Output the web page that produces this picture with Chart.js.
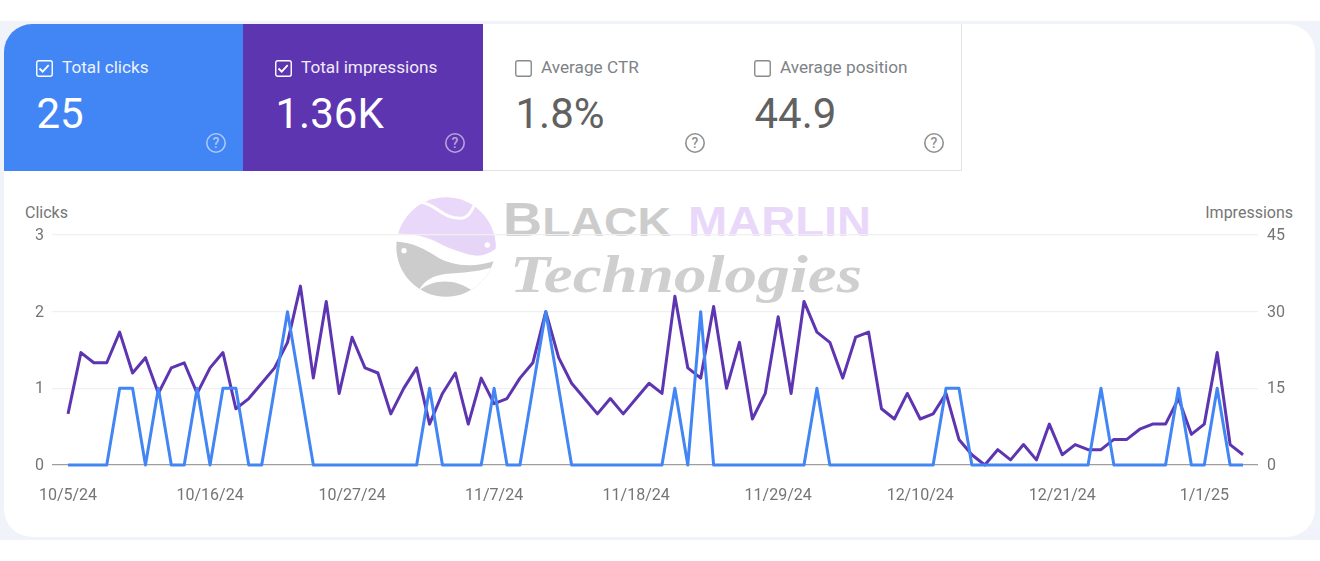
<!DOCTYPE html>
<html>
<head>
<meta charset="utf-8">
<title>Search performance</title>
<script src="https://cdn.jsdelivr.net/npm/chart.js@4"></script>
<style>
	html, body { margin: 0; padding: 0; width: 1320px; height: 561px; overflow: hidden; background: #fff; font-family: Roboto, sans-serif; }
	.band { position: absolute; left: 0; top: 21px; width: 1320px; height: 519px; background: #f1f3fa; }
	.card { position: absolute; left: 4px; top: 24px; width: 1311px; height: 513px; background: #fff; border-radius: 28px; }
	.tile { position: absolute; top: 24px; height: 147px; width: 240px; box-sizing: border-box; color: #fff; }
	.tile.off { color: #70757a; border-right: 1.5px solid #e3e3e3; border-bottom: 1.5px solid #e3e3e3; }
	.tile .name { position: absolute; top: 32.5px; left: 58px; font-size: 17.2px; line-height: 20px; white-space: nowrap; opacity: .9; }
	.tile .value { position: absolute; top: 64.5px; left: 32.5px; font-size: 42px; line-height: 50px; white-space: nowrap; }
	.tile.off .value { color: #616161; }
	.tile svg { position: absolute; }
	.axis-name { position: absolute; top: 204px; font-size: 16px; line-height: 18px; color: #757575; }
	#logo { position: absolute; left: 0; top: 0; }
	#chart-box { position: absolute; left: 0; top: 0; width: 1320px; height: 561px; }
</style>
</head>
<body>
<div class="band"></div>
<div class="card"></div>
<div id="tiles"></div>

<svg id="logo" width="1320" height="561">
	<defs>
		<clipPath id="disc"><circle cx="198" cy="186" r="149"/></clipPath>
		<pattern id="dots" width="6" height="6" patternUnits="userSpaceOnUse"><rect width="6" height="6" fill="#e9d8f9"/><circle cx="3" cy="3" r="1.3" fill="#d3c3e4"/></pattern>
	</defs>
	<g transform="translate(380 185) scale(0.3333)">
		<g clip-path="url(#disc)">
			<path d="M0 148 C80 140 130 150 180 176 C240 208 290 212 360 180 L360 0 L0 0 Z" fill="#e9d8f9"/>
			<path d="M140 152 C180 170 240 208 290 212 C310 212 330 205 350 190 L350 150 Z" fill="url(#dots)"/>
			<path d="M0 172 C80 160 130 190 170 215 C220 245 290 250 360 222 L360 345 L0 345 Z" fill="#cccccc"/>
			<path d="M360 238 C290 268 220 260 180 270 C150 276 125 296 118 316 C160 280 230 280 278 318 L360 345 Z" fill="#fff"/>
			<path d="M125 52 C170 60 190 100 240 100 C262 100 272 84 282 62" fill="none" stroke="#fff" stroke-width="9"/>
		</g>
		<circle cx="322" cy="180" r="8" fill="#fff"/>
		<circle cx="72" cy="197" r="8" fill="#fff"/>
	</g>
	<text x="503" y="236" font-family="Liberation Sans" font-weight="bold" font-size="41" fill="#cccccc" textLength="168" lengthAdjust="spacingAndGlyphs"><tspan font-size="48">B</tspan>LACK</text>
	<text x="688" y="236" font-family="Liberation Sans" font-weight="bold" font-size="43" fill="#e9d8f9" textLength="183" lengthAdjust="spacingAndGlyphs">MARLIN</text>
	<text x="510" y="292" font-family="Liberation Serif" font-weight="bold" font-style="italic" font-size="52" fill="#cfcfcf" textLength="352" lengthAdjust="spacingAndGlyphs">Technologies</text>
</svg>

<div class="axis-name" style="left:25px">Clicks</div>
<div class="axis-name" style="right:27px">Impressions</div>
<div id="chart-box"><canvas id="chart"></canvas></div>

<script>
// values, one per day from 10/5/24 to 1/4/25
const clicks = [
	0, 0, 0, 0, 1, 1, 0, 1, 0, 0, 1, 0, 1, 1, 0, 0, 1, 2, 1, 0, 0, 0, 0,
	0, 0, 0, 0, 0, 1, 0, 0, 0, 0, 1, 0, 0, 1, 2, 1, 0, 0, 0, 0, 0, 0, 0,
	0, 1, 0, 2, 0, 0, 0, 0, 0, 0, 0, 0, 1, 0, 0, 0, 0, 0, 0, 0, 0, 0, 1,
	1, 0, 0, 0, 0, 0, 0, 0, 0, 0, 0, 1, 0, 0, 0, 0, 0, 1, 0, 0, 1, 0, 0
];
const impressions = [
	10, 22, 20, 20, 26, 18, 21, 14, 19, 20, 14, 19, 22, 11, 13, 16, 19, 24, 35, 17, 32, 14, 25,
	19, 18, 10, 15, 19, 8, 14, 18, 8, 17, 12, 13, 17, 20, 30, 21, 16, 13, 10, 13, 10, 13, 16,
	14, 33, 19, 17, 31, 15, 24, 9, 14, 29, 14, 32, 26, 24, 17, 25, 26, 11, 9, 14, 9, 10, 14,
	5, 2, 0, 3, 1, 4, 1, 8, 2, 4, 3, 3, 5, 5, 7, 8, 8, 13, 6, 8, 22, 4, 2
];
const tickDays = [0, 11, 22, 33, 44, 55, 66, 77, 88];
const tickLabels = ['10/5/24', '10/16/24', '10/27/24', '11/7/24', '11/18/24', '11/29/24', '12/10/24', '12/21/24', '1/1/25'];
const clickTicks = [0, 1, 2, 3];
const impressionTicks = [0, 15, 30, 45];

const tileNames = ['Total clicks', 'Total impressions', 'Average CTR', 'Average position'];
const tileValues = ['25', '1.36K', '1.8%', '44.9'];
const tileColors = ['#4285f4', '#5e35b1', '#fff', '#fff'];
const tileLefts = [4, 243, 483, 722];

const BLUE = '#4285f4';
const PURPLE = '#5e35b1';
const TICK_COLOR = '#757575';

function buildTiles() {
	const box = document.getElementById('tiles');
	tileNames.forEach((name, i) => {
		const on = i < 2;
		const stroke = on ? '#fff' : '#8a8a8a';
		const tick = on ? `<path d="M3.5 8.5l3.2 3.2 6-6.5" fill="none" stroke="#fff" stroke-width="1.8"/>` : '';
		const tile = document.createElement('div');
		tile.className = on ? 'tile' : 'tile off';
		tile.style.left = tileLefts[i] + 'px';
		tile.style.background = tileColors[i];
		tile.style.borderTopLeftRadius = i === 0 ? '28px' : '0';
		tile.innerHTML = `
			<svg style="left:32px;top:36px" width="17" height="17"><rect x=".75" y=".75" width="15.5" height="15.5" rx="2" fill="none" stroke="${stroke}" stroke-width="1.4"/>${tick}</svg>
			<div class="name">${name}</div>
			<div class="value">${tileValues[i]}</div>
			<svg style="left:201px;top:108px;opacity:${on ? 0.55 : 0.8}" width="22" height="22" viewBox="0 0 22 22"><circle cx="11" cy="11" r="9.2" fill="none" stroke="${on ? '#fff' : '#757575'}" stroke-width="1.6"/><text x="11" y="16" text-anchor="middle" font-family="Roboto" font-size="14" font-weight="500" fill="${on ? '#fff' : '#757575'}">?</text></svg>`;
		box.appendChild(tile);
	});
}

function initChart() {
	const ctx = document.getElementById('chart').getContext('2d');
	new Chart(ctx, {
		type: 'line',
		data: {
			datasets: [
				{
					label: 'Clicks',
					data: clicks.map((y, x) => ({ x, y })),
					yAxisID: 'yClicks',
					borderColor: BLUE,
					borderWidth: 3,
					borderJoinStyle: 'round',
					pointRadius: 0,
					tension: 0,
					order: 1
				},
				{
					label: 'Impressions',
					data: impressions.map((y, x) => ({ x, y })),
					yAxisID: 'yImpressions',
					borderColor: PURPLE,
					borderWidth: 3,
					borderJoinStyle: 'round',
					pointRadius: 0,
					tension: 0,
					order: 2
				}
			]
		},
		options: {
			responsive: false,
			animation: false,
			clip: false,
			layout: { padding: { top: 235, left: 0, right: 0, bottom: 0 } },
			plugins: { legend: { display: false }, tooltip: { enabled: false } },
			scales: {
				x: {
					type: 'linear',
					min: -1.24,
					max: 92.16,
					grid: { display: false },
					border: { display: false },
					afterBuildTicks: (axis) => { axis.ticks = tickDays.map(value => ({ value })); },
					afterFit: (axis) => { axis.height = 96; },
					ticks: {
						autoSkip: false,
						maxRotation: 0,
						padding: 13,
						color: TICK_COLOR,
						font: { family: 'Roboto', size: 16 },
						callback: (value) => tickLabels[tickDays.indexOf(value)]
					}
				},
				yClicks: {
					position: 'left',
					min: 0,
					max: 3,
					afterBuildTicks: (axis) => { axis.ticks = clickTicks.map(value => ({ value })); },
					afterFit: (axis) => { axis.width = 52; },
					border: { display: false },
					grid: {
						drawTicks: false,
						lineWidth: 1.2,
						color: (c) => c.tick.value === 0 ? '#9e9e9e' : '#f0f0f0'
					},
					ticks: { padding: 8, labelOffset: 1, color: TICK_COLOR, font: { family: 'Roboto', size: 16 } }
				},
				yImpressions: {
					position: 'right',
					min: 0,
					max: 45,
					afterBuildTicks: (axis) => { axis.ticks = impressionTicks.map(value => ({ value })); },
					afterFit: (axis) => { axis.width = 62; },
					border: { display: false },
					grid: { display: false, drawTicks: false },
					ticks: { padding: 9, labelOffset: 1, color: TICK_COLOR, font: { family: 'Roboto', size: 16 } }
				}
			}
		}
	});
}

buildTiles();
document.getElementById('chart').width = 1320;
document.getElementById('chart').height = 561;
initChart();
</script>
</body>
</html>
